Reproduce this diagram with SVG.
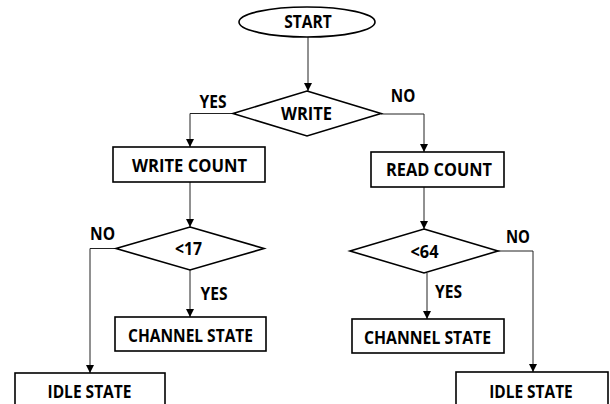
<svg xmlns="http://www.w3.org/2000/svg" width="610" height="404" viewBox="0 0 610 404">
<style>
.shape{fill:#fff;stroke:#000;stroke-width:1.6}
.conn{fill:none;stroke:#222;stroke-width:1}
text{font-family:"Open Sans","Liberation Sans",Arial,sans-serif;font-weight:bold;font-size:17px;fill:#000;text-anchor:middle}
</style>
<defs>
<marker id="arr" markerUnits="userSpaceOnUse" markerWidth="8" markerHeight="9" refX="8" refY="4" orient="auto">
<path d="M0,0 L8,4 L0,8 Z" fill="#000"/>
</marker>
</defs>
<rect width="610" height="404" fill="#fff"/>
<g id="connectors">
<path class="conn" d="M308,37 V91" marker-end="url(#arr)"/>
<path class="conn" d="M233,113.5 H190 V147" marker-end="url(#arr)"/>
<path class="conn" d="M381,114 H424 V152" marker-end="url(#arr)"/>
<path class="conn" d="M190,182 V227" marker-end="url(#arr)"/>
<path class="conn" d="M424,187 V229" marker-end="url(#arr)"/>
<path class="conn" d="M116,248.5 H90 V373" marker-end="url(#arr)"/>
<path class="conn" d="M190,270 V317" marker-end="url(#arr)"/>
<path class="conn" d="M427,273 V319" marker-end="url(#arr)"/>
<path class="conn" d="M498,251 H533 V372" marker-end="url(#arr)"/>
<text x="213" y="108" textLength="27" lengthAdjust="spacingAndGlyphs">YES</text>
<text x="403" y="102" textLength="24.5" lengthAdjust="spacingAndGlyphs">NO</text>
<text x="102.5" y="240" textLength="25" lengthAdjust="spacingAndGlyphs">NO</text>
<text x="518" y="243" textLength="24" lengthAdjust="spacingAndGlyphs">NO</text>
<text x="214" y="300" textLength="27" lengthAdjust="spacingAndGlyphs">YES</text>
<text x="448.5" y="298" textLength="27" lengthAdjust="spacingAndGlyphs">YES</text>
</g>
<g id="start">
<ellipse class="shape" cx="307" cy="22" rx="68" ry="15"/>
<text x="308" y="28" textLength="47.5" lengthAdjust="spacingAndGlyphs">START</text>
</g>
<g id="write">
<polygon class="shape" points="307,91 381,113.5 307,136 233,113.5"/>
<text x="306.5" y="120" textLength="51" lengthAdjust="spacingAndGlyphs">WRITE</text>
</g>
<g id="write-count">
<rect class="shape" x="113" y="147" width="152" height="35"/>
<text x="189.5" y="171.5" textLength="115" lengthAdjust="spacingAndGlyphs">WRITE COUNT</text>
</g>
<g id="read-count">
<rect class="shape" x="371" y="152" width="133" height="35"/>
<text x="439" y="176" textLength="106" lengthAdjust="spacingAndGlyphs">READ COUNT</text>
</g>
<g id="lt17">
<polygon class="shape" points="190,227 264,248.5 190,270 116,248.5"/>
<text x="188.5" y="255" textLength="27" lengthAdjust="spacingAndGlyphs">&lt;17</text>
</g>
<g id="lt64">
<polygon class="shape" points="424,229 498,251 424,273 350,251"/>
<text x="424.5" y="258" textLength="28" lengthAdjust="spacingAndGlyphs">&lt;64</text>
</g>
<g id="channel-left">
<rect class="shape" x="115" y="317" width="151" height="34"/>
<text x="190.5" y="342" textLength="125" lengthAdjust="spacingAndGlyphs">CHANNEL STATE</text>
</g>
<g id="channel-right">
<rect class="shape" x="352" y="319" width="152" height="34"/>
<text x="427.5" y="344" textLength="127" lengthAdjust="spacingAndGlyphs">CHANNEL STATE</text>
</g>
<g id="idle-left">
<rect class="shape" x="15" y="373" width="150" height="40"/>
<text x="89.5" y="398" textLength="84" lengthAdjust="spacingAndGlyphs">IDLE STATE</text>
</g>
<g id="idle-right">
<rect class="shape" x="456" y="372" width="152" height="40"/>
<text x="531" y="398" textLength="83.5" lengthAdjust="spacingAndGlyphs">IDLE STATE</text>
</g>
</svg>
